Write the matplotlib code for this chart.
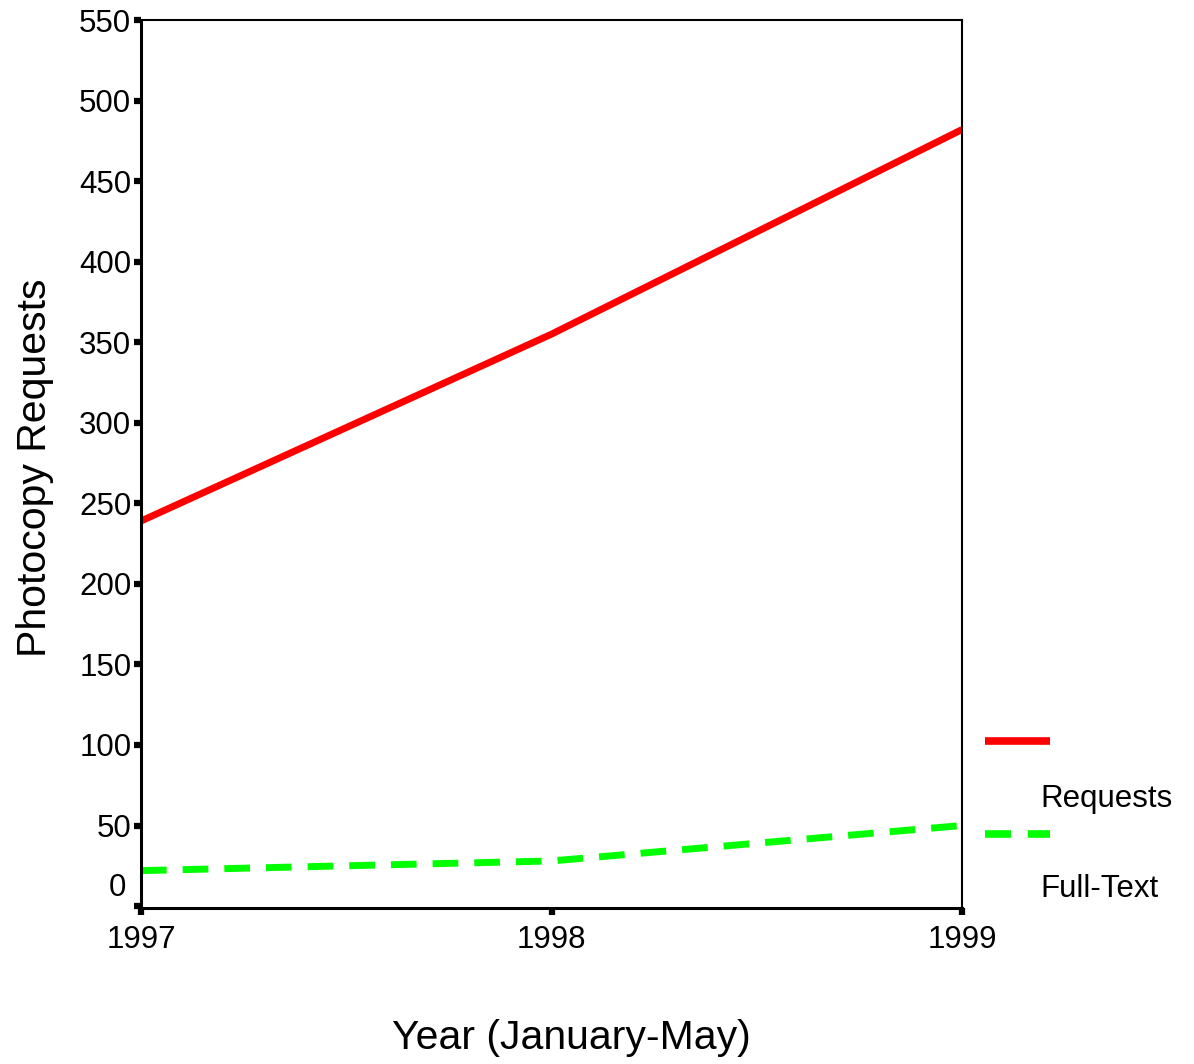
import matplotlib
matplotlib.use("Agg")
import matplotlib.pyplot as plt
from matplotlib.lines import Line2D

plt.rcParams['font.family'] = ['Liberation Sans', 'DejaVu Sans']

years = [1997, 1998, 1999]
year_labels = ["1997", "1998", "1999"]
requests = [239, 355, 482]
full_text = [22, 28, 50]
series_names = ["Requests", "Full-Text"]
y_ticks = [0, 50, 100, 150, 200, 250, 300, 350, 400, 450, 500, 550]

W, H = 1194, 1064
fig = plt.figure(figsize=(W / 100, H / 100), dpi=100)
ax = fig.add_axes([141 / W, 1 - 908 / H, (962 - 141) / W, (908 - 20) / H])

ax.plot(years, requests, color="#ff0000", lw=5, solid_capstyle="butt")
ax.plot(years, full_text, color="#00ff00", lw=5, dashes=(3.7, 2.3),
        solid_capstyle="butt", dash_capstyle="butt")

ax.set_xlim(1997, 1999)
ax.set_ylim(-1.2, 550)
ax.set_xticks(years)
ax.set_xticklabels(year_labels)
ax.set_yticks(y_ticks)
ax.set_yticklabels([""] + [str(v) for v in y_ticks[1:]])
ax.annotate("0", xy=(0, 0), xycoords=("axes fraction", "data"),
            xytext=(-11, 13), textcoords="offset points",
            ha="right", va="center", fontsize=22.5)

ax.tick_params(axis="both", direction="out", length=5, width=4.5,
               labelsize=22.5, color="black")
ax.tick_params(axis="y", pad=2)
ax.tick_params(axis="x", pad=7)

for side, lw in [("left", 2.2), ("bottom", 2.2), ("top", 1.5), ("right", 1.5)]:
    ax.spines[side].set_linewidth(lw)
    ax.spines[side].set_color("black")

ax.set_ylabel("Photocopy Requests", fontsize=29.5)
ax.set_xlabel("Year (January-May)", fontsize=29.5)
ax.xaxis.set_label_coords((571 - 141) / 821, -(1038 - 908) / 888)
ax.xaxis.label.set_va("center")
ax.yaxis.set_label_coords((35 - 141) / 821, (908 - 468) / 888)
ax.yaxis.label.set_va("center")
ax.yaxis.label.set_ha("center")

# legend (handle above label)
def fx(px):
    return px / W

def fy(py):
    return 1 - py / H

fig.add_artist(Line2D([fx(985), fx(1050)], [fy(741), fy(741)],
                      color="#ff0000", lw=5.5, solid_capstyle="butt"))
fig.add_artist(Line2D([fx(985), fx(1050)], [fy(834), fy(834)],
                      color="#00ff00", lw=5.5, dashes=(3.4, 2.2),
                      dash_capstyle="butt"))
fig.text(fx(1040), fy(799), series_names[0], fontsize=22.5, ha="left", va="center")
fig.text(fx(1040), fy(889), series_names[1], fontsize=22.5, ha="left", va="center")

fig.savefig("out.png", dpi=100, facecolor="white")
